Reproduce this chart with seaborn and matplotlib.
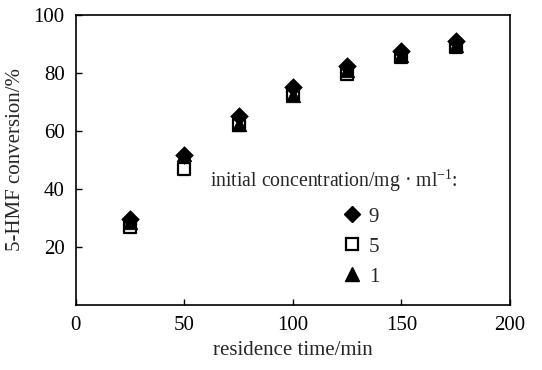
import matplotlib
matplotlib.use("Agg")
import matplotlib.pyplot as plt
import seaborn as sns
import pandas as pd
from matplotlib.lines import Line2D

sns.set_theme(style="ticks")
plt.rcParams['font.family'] = ['Liberation Serif', 'DejaVu Serif']
plt.rcParams['mathtext.fontset'] = 'custom'
plt.rcParams['mathtext.rm'] = 'Liberation Serif'

time_min = [25, 50, 75, 100, 125, 150, 175]
conv_9 = [29.5, 51.5, 65, 75, 82.5, 87.5, 91]
conv_5 = [27, 47, 62, 72.5, 79.5, 85.5, 89]
conv_1 = [28.5, 52, 62.5, 72.5, 81, 86, 89.5]
series_labels = ["9", "5", "1"]

fig = plt.figure(figsize=(5.42, 3.70), dpi=100)
ax = fig.add_axes([0.140, 0.176, 0.801, 0.784])

df5 = pd.DataFrame({"t": time_min, "c": conv_5})
df1 = pd.DataFrame({"t": time_min, "c": conv_1})
df9 = pd.DataFrame({"t": time_min, "c": conv_9})

sns.scatterplot(data=df5, x="t", y="c", marker="s", s=80, facecolor="white",
                edgecolor="black", linewidth=1.6, ax=ax, zorder=3)
sns.scatterplot(data=df1, x="t", y="c", marker="^", s=110, color="black",
                edgecolor="black", linewidth=0.5, ax=ax, zorder=4)
sns.scatterplot(data=df9, x="t", y="c", marker="D", s=80, color="black",
                edgecolor="black", linewidth=0.5, ax=ax, zorder=5)

FS = 15
ax.set_xlim(0, 200)
ax.set_ylim(0, 100)
ax.set_xticks([0, 50, 100, 150, 200])
ax.set_yticks([20, 40, 60, 80, 100])
ax.tick_params(direction="in", length=4, width=1, labelsize=FS, colors="black",
               pad=8)
ax.tick_params(axis="x", pad=8)
for sp in ax.spines.values():
    sp.set_linewidth(1.2)
    sp.set_color("black")

ax.set_xlabel("residence time/min", fontsize=FS, labelpad=4)
ax.set_ylabel("5-HMF conversion/%", fontsize=FS, labelpad=6)

handles = [
    Line2D([], [], marker="D", linestyle="none", markersize=8, markerfacecolor="black", markeredgecolor="black"),
    Line2D([], [], marker="s", linestyle="none", markersize=8, markerfacecolor="white", markeredgecolor="black", markeredgewidth=1.6),
    Line2D([], [], marker="^", linestyle="none", markersize=10, markerfacecolor="black", markeredgecolor="black"),
]
ax.text(0.309, 0.428, "initial concentration/mg \u00b7 ml$^{-1}$:", transform=ax.transAxes,
        fontsize=14.2, ha="left", va="center")
ax.legend(handles, series_labels, loc="upper left", bbox_to_anchor=(0.593, 0.366),
          frameon=False, fontsize=FS, handletextpad=0.3, labelspacing=0.5,
          handlelength=1.0, borderaxespad=0)

fig.savefig("out.png", dpi=100)
